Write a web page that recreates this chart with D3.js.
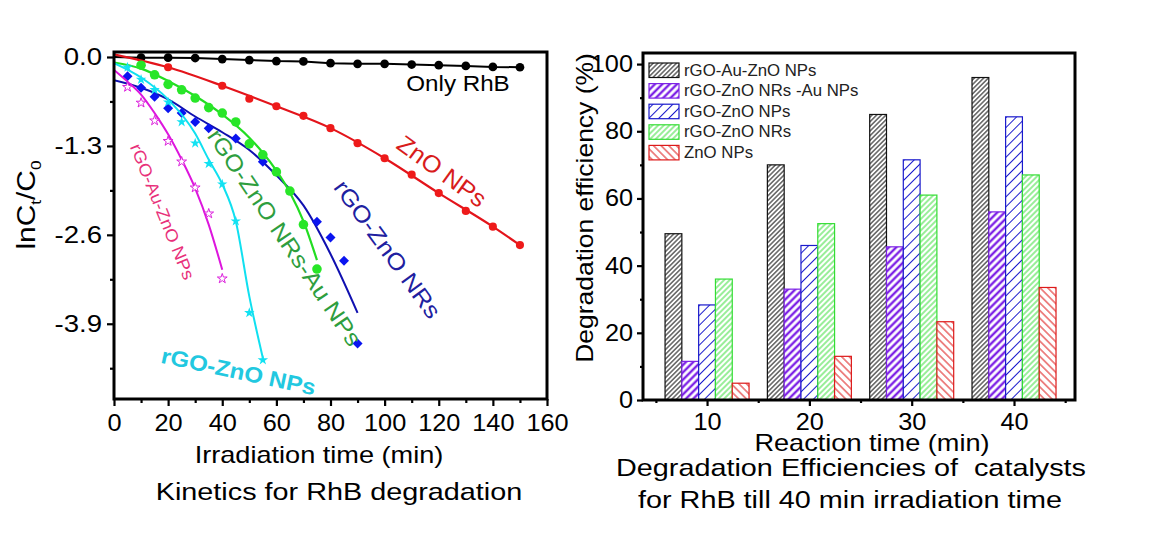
<!DOCTYPE html>
<html><head><meta charset="utf-8">
<script src="https://cdn.jsdelivr.net/npm/d3@7/dist/d3.min.js"></script>
<style>
html,body{margin:0;padding:0;background:#fff;}
text{font-family:"Liberation Sans",Arial,sans-serif;}
</style></head>
<body>
<svg id="chart" width="1166" height="536"></svg>
<script>
// ---------- LEFT PANEL DATA (ln Ct/C0 vs irradiation time) ----------
const onlyRhB_t = [0,10,20,30,40,50,60,70,80,90,100,110,120,130,140,150];
const onlyRhB_v = [0,-0.01,-0.01,-0.015,-0.03,-0.045,-0.06,-0.065,-0.09,-0.10,-0.10,-0.11,-0.12,-0.13,-0.145,-0.15];

const znoNPs_t = [20,40,50,60,70,80,90,100,110,120,130,140,150];
const znoNPs_v = [-0.15,-0.42,-0.61,-0.72,-0.86,-1.04,-1.26,-1.48,-1.72,-1.99,-2.25,-2.48,-2.75];
const znoNPsFit_t = [0,20,40,60,80,100,120,140,150];
const znoNPsFit_v = [0.04,-0.15,-0.42,-0.72,-1.04,-1.48,-1.99,-2.48,-2.75];

const nrsAu_t = [10,15,20,25,30,35,40,45,50,55,60,65,70,75];
const nrsAu_v = [-0.12,-0.26,-0.40,-0.48,-0.60,-0.74,-0.82,-0.95,-1.27,-1.43,-1.68,-1.96,-2.45,-3.10];
const nrsAuFit_t = [0,10,20,30,40,50,55,60,65,70,75];
const nrsAuFit_v = [-0.08,-0.17,-0.35,-0.57,-0.84,-1.18,-1.40,-1.66,-1.98,-2.40,-2.97];

const nrs_t = [5,10,15,20,25,30,35,45,55,75,80,85,90];
const nrs_v = [-0.28,-0.45,-0.58,-0.75,-0.82,-0.95,-1.04,-1.19,-1.53,-2.41,-2.64,-2.98,-4.19];
const nrsFit_t = [0,10,20,30,40,50,60,70,80,90];
const nrsFit_v = [-0.34,-0.45,-0.62,-0.87,-1.10,-1.36,-1.73,-2.17,-2.88,-3.74];

const nps_t = [5,10,15,20,25,30,35,40,45,50,55];
const nps_v = [-0.15,-0.33,-0.48,-0.66,-0.95,-1.26,-1.56,-1.86,-2.40,-3.74,-4.43];
const npsFit_t = [0,10,20,30,35,40,45,50,55];
const npsFit_v = [-0.09,-0.30,-0.62,-1.12,-1.50,-1.86,-2.40,-3.50,-4.40];

const auNps_t = [5,10,15,20,25,30,35,40];
const auNps_v = [-0.44,-0.67,-0.93,-1.23,-1.53,-1.91,-2.29,-3.24];
const auNpsFit_t = [0,5,10,15,20,25,30,35,40];
const auNpsFit_v = [-0.19,-0.36,-0.55,-0.82,-1.13,-1.50,-1.92,-2.45,-3.11];

const leftXTicks = [0,20,40,60,80,100,120,140,160];
const leftXMinor = [10,30,50,70,90,110,130,150];
const leftYTicks = [0,-1.3,-2.6,-3.9];
const leftYTickLabels = ["0.0","-1.3","-2.6","-3.9"];
const leftYMinor = [-0.65,-1.95,-3.25,-4.55];

// ---------- RIGHT PANEL DATA (degradation efficiency) ----------
const reactionTimes = [10,20,30,40];
const seriesNames = ["rGO-Au-ZnO NPs","rGO-ZnO NRs -Au NPs","rGO-ZnO NPs","rGO-ZnO NRs","ZnO NPs"];
const eff_rGOAuZnONPs = [49.5,70,85,96];
const eff_rGOZnONRsAuNPs = [11.5,33,45.6,56];
const eff_rGOZnONPs = [28.3,46,71.5,84.3];
const eff_rGOZnONRs = [36,52.5,61,67];
const eff_ZnONPs = [5,13,23.3,33.5];
const rightYTicks = [0,20,40,60,80,100];
const rightYMinor = [10,30,50,70,90];
const rightXMinor = [5,15,25,35,45];

// ---------- DRAWING ----------
const svg = d3.select("#chart");
svg.append("rect").attr("width",1166).attr("height",536).attr("fill","#fff");

function label(parent, x, y, str, o) {
  o = Object.assign({size:22, sx:1, rot:0, anchor:"middle", fill:"#000", weight:"normal"}, o||{});
  return parent.append("text")
    .attr("transform", `translate(${x},${y}) rotate(${o.rot}) scale(${o.sx},1)`)
    .attr("text-anchor", o.anchor).attr("font-size", o.size)
    .attr("font-weight", o.weight).attr("fill", o.fill)
    .style("white-space","pre")
    .text(str);
}
function stretchAxisText(g, sx) {
  g.selectAll(".tick text").each(function(){
    const t = d3.select(this);
    const x = +t.attr("x") || 0, y = +t.attr("y") || 0;
    t.attr("x",0).attr("y",0).attr("transform",`translate(${x},${y}) scale(${sx},1)`);
  });
}

// ===== LEFT =====
const L = {left:114, right:547, top:52, bottom:399};
const lx = d3.scaleLinear().domain([0,160]).range([L.left, L.right]);
const ly = d3.scaleLinear().domain([-5.0,0.073]).range([L.bottom, L.top]);
const gl = svg.append("g");

const clipL = svg.append("defs").append("clipPath").attr("id","clipL")
  .append("rect").attr("x",L.left).attr("y",L.top).attr("width",L.right-L.left).attr("height",L.bottom-L.top);

// axes ticks
const lxAxis = gl.append("g").attr("transform",`translate(0,${L.bottom})`)
  .call(d3.axisBottom(lx).tickValues(leftXTicks).tickSize(7).tickPadding(9).tickFormat(d3.format("d")));
gl.append("g").attr("transform",`translate(0,${L.bottom})`)
  .call(d3.axisBottom(lx).tickValues(leftXMinor).tickSize(4).tickFormat(""));
const lyAxis = gl.append("g").attr("transform",`translate(${L.left},0)`)
  .call(d3.axisLeft(ly).tickValues(leftYTicks).tickSize(7).tickPadding(5).tickFormat((d,i)=>leftYTickLabels[i]));
gl.append("g").attr("transform",`translate(${L.left},0)`)
  .call(d3.axisLeft(ly).tickValues(leftYMinor).tickSize(4).tickFormat(""));
[lxAxis, lyAxis].forEach(a=>{
  a.selectAll("text").attr("font-size",23).attr("fill","#000").attr("font-family","Liberation Sans, Arial, sans-serif");
});
gl.selectAll(".domain").remove();
gl.selectAll(".tick line").attr("stroke","#000").attr("stroke-width",2.2);
lxAxis.selectAll(".tick text").attr("dy","0.71em");
stretchAxisText(lxAxis, 1.1);
stretchAxisText(lyAxis, 1.2);

// data
const plot = gl.append("g").attr("clip-path","url(#clipL)");
const lineGen = (curve) => d3.line().x(d=>lx(d[0])).y(d=>ly(d[1])).curve(curve);
const zip = (a,b)=>a.map((v,i)=>[v,b[i]]);

function drawLine(t, v, color, w, curve) {
  plot.append("path").datum(zip(t,v)).attr("fill","none").attr("stroke",color)
    .attr("stroke-width",w).attr("d", lineGen(curve||d3.curveMonotoneX));
}
function drawPts(t, v, type, size, fill, stroke, rot) {
  const sym = d3.symbol().type(type).size(size);
  plot.append("g").selectAll("path").data(zip(t,v)).join("path")
    .attr("transform", d=>`translate(${lx(d[0])},${ly(d[1])}) rotate(${rot||0})`)
    .attr("d", sym).attr("fill", fill).attr("stroke", stroke||"none").attr("stroke-width",1);
}

// Only RhB
drawLine(onlyRhB_t, onlyRhB_v, "#000", 2, d3.curveLinear);
drawPts(onlyRhB_t.slice(1), onlyRhB_v.slice(1), d3.symbolCircle, 60, "#000");
// ZnO NPs
drawLine(znoNPsFit_t, znoNPsFit_v, "#e3141b", 2.2);
drawPts(znoNPs_t, znoNPs_v, d3.symbolCircle, 52, "#ee1a1a");
// rGO-ZnO NRs (blue)
drawLine(nrsFit_t, nrsFit_v, "#1010b0", 2);
drawPts(nrs_t, nrs_v, d3.symbolSquare, 50, "#0a14f0", null, 45);
// rGO-ZnO NRs-Au NPs (green)
drawLine(nrsAuFit_t, nrsAuFit_v, "#22dd22", 2.2);
drawPts(nrsAu_t, nrsAu_v, d3.symbolCircle, 72, "#28e628");
// rGO-ZnO NPs (cyan)
drawLine(npsFit_t, npsFit_v, "#10e0f0", 2);
drawPts(nps_t, nps_v, d3.symbolStar, 34, "#12e2f2");
// rGO-Au-ZnO NPs (magenta)
drawLine(auNpsFit_t, auNpsFit_v, "#dd16dd", 2);
drawPts(auNps_t, auNps_v, d3.symbolStar, 30, "#fff", "#dd22dd");

// frame
gl.append("rect").attr("x",L.left).attr("y",L.top).attr("width",L.right-L.left).attr("height",L.bottom-L.top)
  .attr("fill","none").attr("stroke","#000").attr("stroke-width",3);

// in-plot labels
label(gl, 458, 91, "Only RhB", {size:22, sx:1.1});
label(gl, 437, 178, "ZnO NPs", {size:24, sx:1.05, rot:36, fill:"#d81c1c"});
label(gl, 381, 254, "rGO-ZnO NRs", {size:23, sx:1.12, rot:54, fill:"#2020a0"});
label(gl, 278, 242, "rGO-ZnO NRs-Au NPs", {size:23, sx:1.1, rot:56, fill:"#2e9e3e"});
label(gl, 157, 214, "rGO-Au-ZnO NPs", {size:17, sx:1.08, rot:68, fill:"#e8307a"});
label(gl, 237, 379, "rGO-ZnO NPs", {size:22, sx:1.1, rot:12, fill:"#22c8e0", weight:"bold"});

// axis titles
const yl = gl.append("text").attr("transform","translate(35,205) rotate(-90) scale(1.15,1)")
  .attr("text-anchor","middle").attr("font-size",26).attr("fill","#000");
yl.append("tspan").text("lnC");
yl.append("tspan").attr("font-size",15).attr("dy",6).text("t");
yl.append("tspan").attr("dy",-6).text("/C");
yl.append("tspan").attr("font-size",15).attr("dy",6).text("0");

label(gl, 319, 463, "Irradiation time (min)", {size:23, sx:1.18});
label(gl, 339, 500, "Kinetics for RhB degradation", {size:24, sx:1.2});

// ===== RIGHT =====
const R = {left:643, right:1075, top:53, bottom:400};
const rx = d3.scaleLinear().domain([3.74,45.96]).range([R.left, R.right]);
const ry = d3.scaleLinear().domain([0,103.3]).range([R.bottom, R.top]);
const gr = svg.append("g");
const groupW = 84;
const inner = d3.scaleBand().domain(seriesNames).range([-groupW/2, groupW/2]).padding(0);

const defs = svg.select("defs");
function hatch(id, color, spacing, width, angle) {
  const p = defs.append("pattern").attr("id",id).attr("patternUnits","userSpaceOnUse")
    .attr("width",spacing).attr("height",spacing).attr("patternTransform",`rotate(${angle})`);
  p.append("rect").attr("width",spacing).attr("height",spacing).attr("fill","#fff");
  p.append("line").attr("x1",spacing/2).attr("y1",0).attr("x2",spacing/2).attr("y2",spacing)
    .attr("stroke",color).attr("stroke-width",width);
}
const seriesStyles = [
  {id:"h0", color:"#111", sp:3.3, w:1, ang:45},
  {id:"h1", color:"#7d22e6", sp:5.2, w:2.4, ang:45},
  {id:"h2", color:"#1a1acc", sp:7, w:1, ang:45},
  {id:"h3", color:"#33dd33", sp:4, w:1, ang:45},
  {id:"h4", color:"#dd1a1a", sp:5.4, w:1, ang:-45},
];
seriesStyles.forEach(s=>hatch(s.id, s.color, s.sp, s.w, s.ang));
const seriesVals = [eff_rGOAuZnONPs, eff_rGOZnONRsAuNPs, eff_rGOZnONPs, eff_rGOZnONRs, eff_ZnONPs];

seriesVals.forEach((vals, si)=>{
  const st = seriesStyles[si];
  gr.append("g").selectAll("rect").data(reactionTimes.map((t,i)=>({t, v:vals[i]}))).join("rect")
    .attr("x", d=>rx(d.t)+inner(seriesNames[si]))
    .attr("y", d=>ry(d.v))
    .attr("width", inner.bandwidth())
    .attr("height", d=>ry(0)-ry(d.v))
    .attr("fill",`url(#${st.id})`).attr("stroke",st.color).attr("stroke-width",1.2);
});

// axes
const rxAxis = gr.append("g").attr("transform",`translate(0,${R.bottom})`)
  .call(d3.axisBottom(rx).tickValues(reactionTimes).tickSize(6).tickPadding(8).tickFormat(d3.format("d")));
gr.append("g").attr("transform",`translate(0,${R.bottom})`)
  .call(d3.axisBottom(rx).tickValues(rightXMinor).tickSize(3).tickFormat(""));
const ryAxis = gr.append("g").attr("transform",`translate(${R.left},0)`)
  .call(d3.axisLeft(ry).tickValues(rightYTicks).tickSize(6).tickPadding(4).tickFormat(d3.format("d")));
gr.append("g").attr("transform",`translate(${R.left},0)`)
  .call(d3.axisLeft(ry).tickValues(rightYMinor).tickSize(3).tickFormat(""));
[rxAxis, ryAxis].forEach(a=>{
  a.selectAll("text").attr("font-size",23).attr("fill","#000").attr("font-family","Liberation Sans, Arial, sans-serif");
});
gr.selectAll(".domain").remove();
gr.selectAll(".tick line").attr("stroke","#000").attr("stroke-width",2.2);
rxAxis.selectAll(".tick text").attr("dy","0.71em");
stretchAxisText(rxAxis, 1.1);
stretchAxisText(ryAxis, 1.1);

gr.append("rect").attr("x",R.left).attr("y",R.top).attr("width",R.right-R.left).attr("height",R.bottom-R.top)
  .attr("fill","none").attr("stroke","#000").attr("stroke-width",3);

// legend
const leg = gr.append("g");
seriesNames.forEach((n,i)=>{
  const y = 63 + i*20.6;
  leg.append("rect").attr("x",649).attr("y",y).attr("width",30).attr("height",14.5)
    .attr("fill",`url(#${seriesStyles[i].id})`).attr("stroke",seriesStyles[i].color).attr("stroke-width",1.2);
  label(leg, 684, y+12.5, n, {size:16, sx:1.05, anchor:"start", fill:"#222"});
});

label(gr, 593, 208, "Degradation efficiency (%)", {size:23, sx:1.15, rot:-90});
label(gr, 872, 451, "Reaction time (min)", {size:23, sx:1.18});
label(gr, 851, 476, "Degradation Efficiencies of  catalysts", {size:24, sx:1.2});
label(gr, 850, 508, "for RhB till 40 min irradiation time", {size:24, sx:1.2});
</script>
</body></html>
